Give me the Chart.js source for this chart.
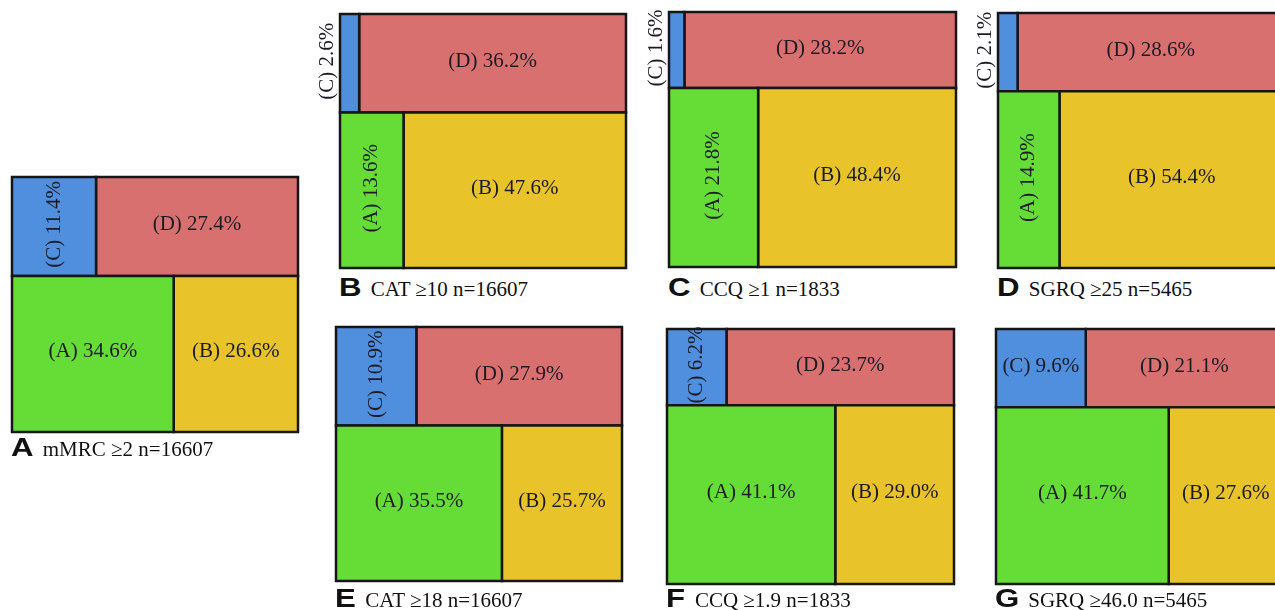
<!DOCTYPE html>
<html>
<head>
<meta charset="utf-8">
<script src="https://cdn.jsdelivr.net/npm/chart.js@4.4.0/dist/chart.umd.min.js"></script>
<style>
  body { margin: 0; background: #fff; width: 1275px; height: 610px; overflow: hidden; position: relative; }
  canvas { position: absolute; }
  .cap { position: absolute; white-space: nowrap; line-height: 26px; color: #111; }
  .cap b { font: bold 26px "Liberation Sans", Arial, sans-serif; display: inline-block; transform: scaleX(1.2); transform-origin: left; margin-right: 13px; }
  .cap span { font: 21px "Liberation Serif", "Times New Roman", serif; }
</style>
</head>
<body>
<script>
/* panel letters and the caption printed under every mosaic */
const panelLetters = ['A', 'B', 'C', 'D', 'E', 'F', 'G'];
const panelTitles = ['mMRC ≥2 n=16607', 'CAT ≥10 n=16607', 'CCQ ≥1 n=1833', 'SGRQ ≥25 n=5465',
                     'CAT ≥18 n=16607', 'CCQ ≥1.9 n=1833', 'SGRQ ≥46.0 n=5465'];

/* GOLD groups, percent of patients in each panel */
const groupA = [34.6, 13.6, 21.8, 14.9, 35.5, 41.1, 41.7];
const groupB = [26.6, 47.6, 48.4, 54.4, 25.7, 29.0, 27.6];
const groupC = [11.4, 2.6, 1.6, 2.1, 10.9, 6.2, 9.6];
const groupD = [27.4, 36.2, 28.2, 28.6, 27.9, 23.7, 21.1];
const groupNames = ['(A)', '(B)', '(C)', '(D)'];

// where every frame sits on the page: left, top, width, height, caption baseline
const frames = [
  [12, 177, 286, 255, 455],
  [340, 14, 286, 254, 295],
  [669, 12, 287, 255, 295],
  [998, 13, 286, 255, 295],
  [336, 327, 286, 254, 606],
  [667, 329, 287, 255, 606],
  [996, 329, 287, 255, 606]
];
const colors = { A: '#66dc36', B: '#e8c42a', C: '#4f8fde', D: '#d87070' };
const padL = 28, pad = 4;

/**
 * one cell of the mosaic as a closed line that gets filled
 */
function cell(x0, x1, y0, y1, color, name, value) {
  return {
    data: [{x: x0, y: y0}, {x: x1, y: y0}, {x: x1, y: y1}, {x: x0, y: y1}, {x: x0, y: y0}],
    showLine: true,
    fill: 'shape',
    backgroundColor: color,
    borderColor: '#161616',
    borderWidth: 2.5,
    borderCapStyle: 'square',
    borderJoinStyle: 'miter',
    pointRadius: 0,
    pointHoverRadius: 0,
    clip: false,
    cellText: name + ' ' + value.toFixed(1) + '%'
  };
}

/* writes the percentages in the middle of the cells, turned when the cell is too narrow */
const cellLabels = {
  id: 'cellLabels',
  afterDatasetsDraw(chart) {
    const ctx = chart.ctx;
    const xs = chart.scales.x, ys = chart.scales.y;
    ctx.save();
    ctx.font = '21px "Liberation Serif", "Times New Roman", serif';
    ctx.fillStyle = '#1b1b26';
    ctx.textAlign = 'center';
    ctx.textBaseline = 'middle';
    chart.data.datasets.forEach(ds => {
      const p = ds.data;
      const left = xs.getPixelForValue(p[0].x), right = xs.getPixelForValue(p[1].x);
      const bottom = ys.getPixelForValue(p[0].y), top = ys.getPixelForValue(p[2].y);
      const w = right - left;
      const tw = ctx.measureText(ds.cellText).width;
      let cx = (left + right) / 2, cy = (top + bottom) / 2 - 2;
      if (tw < w - 6) {
        ctx.fillText(ds.cellText, cx, cy);
      } else {
        if (w < 22) cx = chart.chartArea.left - 13;
        ctx.save();
        ctx.translate(cx, cy);
        ctx.rotate(-Math.PI / 2);
        ctx.fillText(ds.cellText, 0, 0);
        ctx.restore();
      }
    });
    ctx.restore();
  }
};

for (let i = 0; i < panelLetters.length; i++) {
  const [fx, fy, fw, fh, base] = frames[i];

  // bottom row holds A and B, top row C and D
  const bottomRow = groupA[i] + groupB[i];
  const topRow = groupC[i] + groupD[i];
  const splitBottom = groupA[i] / bottomRow * 100;
  const splitTop = groupC[i] / topRow * 100;
  const rowLine = bottomRow / (bottomRow + topRow) * 100;

  const datasets = [
    cell(0, splitBottom, 0, rowLine, colors.A, groupNames[0], groupA[i]),
    cell(splitBottom, 100, 0, rowLine, colors.B, groupNames[1], groupB[i]),
    cell(0, splitTop, rowLine, 100, colors.C, groupNames[2], groupC[i]),
    cell(splitTop, 100, rowLine, 100, colors.D, groupNames[3], groupD[i])
  ];

  const canvas = document.createElement('canvas');
  canvas.width = fw + padL + pad;
  canvas.height = fh + pad * 2;
  canvas.style.left = (fx - padL) + 'px';
  canvas.style.top = (fy - pad) + 'px';
  canvas.style.width = canvas.width + 'px';
  canvas.style.height = canvas.height + 'px';
  document.body.appendChild(canvas);

  new Chart(canvas, {
    type: 'scatter',
    data: { datasets: datasets },
    options: {
      responsive: false,
      animation: false,
      events: [],
      layout: { padding: { left: padL, top: pad, right: pad, bottom: pad } },
      scales: {
        x: { type: 'linear', min: 0, max: 100, display: false },
        y: { type: 'linear', min: 0, max: 100, display: false }
      },
      plugins: { legend: { display: false }, tooltip: { enabled: false } }
    },
    plugins: [cellLabels]
  });

  // caption: bold letter then the measure
  const cap = document.createElement('div');
  cap.className = 'cap';
  cap.style.left = (fx - 1) + 'px';
  cap.style.top = (base - 23) + 'px';
  cap.innerHTML = '<b>' + panelLetters[i] + '</b><span>' + panelTitles[i] + '</span>';
  document.body.appendChild(cap);
}
</script>
</body>
</html>
